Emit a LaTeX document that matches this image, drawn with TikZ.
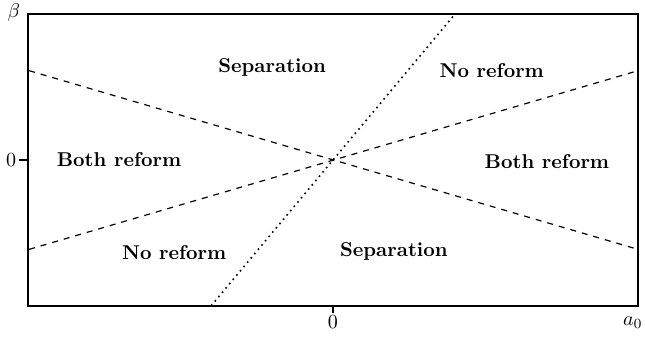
\documentclass[tikz,border=0pt]{standalone}
\usepackage{amsmath}

\begin{document}
\begin{tikzpicture}[line width=0.6pt,region/.style={font=\bfseries}]
  \useasboundingbox (-5.852,-3.093) rectangle (5.483,2.812);
  \draw[line width=1pt] (-5.36,-2.56) rectangle (5.36,2.56);
  \draw[line width=1pt] (-5.36,0)--(-5.52,0) node[left=-2.5pt](yzero){$0$};
  \draw[line width=1pt] (0,-2.56)--(0,-2.68) node[below=-2.5pt](xzero){$0$};
  \node (ylab) at (-5.61,2.6){$\beta$};
  \node (xlab) at (5.27,-2.68)[below=-1.5pt]{$a_0$};
  \draw[dashed] (-5.34,1.57)--(5.36,-1.57);
  \draw[dashed] (-5.34,-1.57)--(5.36,1.57);
  \draw[dotted,line width=0.8pt] (-2.14,-2.56)--(2.14,2.56);
  \node[region] (sepup) at (-1.07,1.62){Separation};
  \node[region] (noup) at (2.79,1.58){No reform};
  \node[region] (bothl) at (-3.76,0){Both reform};
  \node[region] (bothr) at (3.76,-0.02){Both reform};
  \node[region] (nodown) at (-2.79,-1.62){No reform};
  \node[region] (sepdown) at (1.07,-1.60){Separation};
\end{tikzpicture}
\end{document}
